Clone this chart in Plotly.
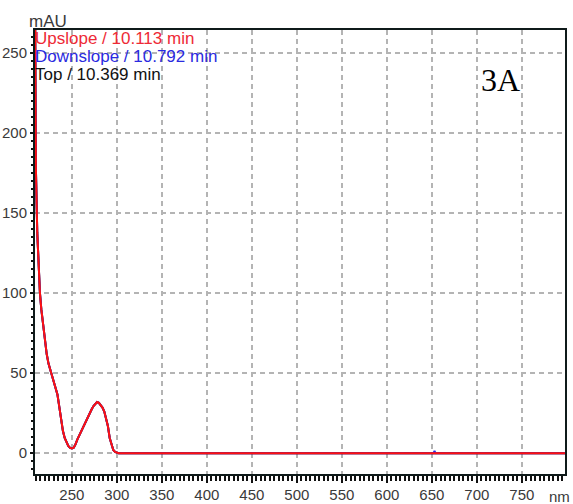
import plotly.graph_objects as go

# UV spectrum (DAD) of the peak: wavelength in nm, absorbance in mAU
wavelength_nm = [209, 210, 211.5, 213, 214.5, 216, 218, 220, 222, 224, 226, 228, 230,
                 232, 234, 236, 238, 240, 242, 244, 246, 248, 250, 252, 254, 256,
                 258, 260, 262, 264, 266, 268, 270, 272, 274, 276, 278, 280, 282,
                 284, 286, 288, 290, 292, 294, 296, 298, 300, 302, 310, 320, 330,
                 400, 500, 600, 652, 653, 654, 700, 750, 800]
upslope_mau = [290, 178, 138, 112, 100, 90, 80, 72, 62, 56, 52, 47, 44,
               40, 36.5, 29, 21, 14, 9.5, 6.5, 4.5, 3.3, 3, 3.5, 5.5, 8.5,
               11, 13.5, 16, 18, 20.5, 23, 25, 27.5, 29.5, 31, 32, 31.5, 30,
               28.5, 26, 21, 17, 9.5, 5, 2, 0.8, 0.2, 0, 0, 0, 0,
               0, 0, 0, 0, 0, 0, 0, 0, 0]

# Downslope and apex spectra are practically identical; small deviations listed here
downslope_mau = [v + (1.4 if w == 653 else 0) for w, v in zip(wavelength_nm, upslope_mau)]
top_mau = list(upslope_mau)

legend_lines = ["Upslope / 10.113 min", "Downslope / 10.792 min", "Top / 10.369 min"]
legend_colors = ["#ee2a36", "#2a2ae0", "#111111"]

x_ticks = [250, 300, 350, 400, 450, 500, 550, 600, 650, 700, 750]
y_ticks = [0, 50, 100, 150, 200, 250]

fig = go.Figure()
fig.add_trace(go.Scatter(x=wavelength_nm, y=top_mau, mode="lines",
                         line=dict(color="#111111", width=2), hoverinfo="skip"))
fig.add_trace(go.Scatter(x=wavelength_nm, y=downslope_mau, mode="lines",
                         line=dict(color="#2a2ae0", width=2), hoverinfo="skip"))
fig.add_trace(go.Scatter(x=wavelength_nm, y=upslope_mau, mode="lines",
                         line=dict(color="#ff1010", width=2), hoverinfo="skip"))

tick_font = dict(family="Liberation Sans, Arial, sans-serif", size=15, color="#3a3a3a")
grid_dash = "5px,4px"

fig.update_xaxes(range=[209, 798], tickvals=x_ticks, ticks="outside", ticklen=7,
                 tickwidth=1.5, tickcolor="#111", tickfont=tick_font, automargin=False,
                 ticklabelstandoff=-1,
                 showline=True, linecolor="#0f1a1a", linewidth=2, mirror=True,
                 showgrid=True, gridcolor="#b4b4b4", gridwidth=1.5, griddash=grid_dash,
                 zeroline=False,
                 minor=dict(dtick=5, tick0=0, ticks="outside", ticklen=5,
                            tickcolor="#111", tickwidth=1.5, showgrid=False))
fig.update_yaxes(range=[-13, 264.5], tickvals=y_ticks, ticks="outside", ticklen=3,
                 tickwidth=1.5, tickcolor="#111", tickfont=tick_font, automargin=False,
                 showline=True, linecolor="#0f1a1a", linewidth=2, mirror=True,
                 showgrid=True, gridcolor="#b4b4b4", gridwidth=1.5, griddash=grid_dash,
                 zeroline=False,
                 minor=dict(dtick=5, tick0=0, ticks="outside", ticklen=2,
                            tickcolor="#111", tickwidth=1.5, showgrid=False))

annotations = []
for i, (txt, col) in enumerate(zip(legend_lines, legend_colors)):
    annotations.append(dict(text=txt, xref="paper", yref="paper", x=0, y=0.98 - i * 0.0405,
                            xanchor="left", yanchor="middle", showarrow=False,
                            xshift=-2,
                            font=dict(family="Liberation Sans, Arial, sans-serif",
                                      size=17, color=col)))
annotations.append(dict(text="mAU", xref="paper", yref="paper", x=0, y=1,
                        xanchor="left", yanchor="bottom", xshift=-8, yshift=-3,
                        showarrow=False,
                        font=dict(family="Liberation Sans, Arial, sans-serif",
                                  size=17, color="#3a3a3a")))
annotations.append(dict(text="nm", xref="paper", yref="paper", x=1, y=0,
                        xanchor="right", yanchor="middle", xshift=7, yshift=-22,
                        showarrow=False,
                        font=dict(family="Liberation Sans, Arial, sans-serif",
                                  size=15, color="#3a3a3a")))
annotations.append(dict(text="3A", xref="paper", yref="paper", x=0.879, y=0.887,
                        xanchor="center", yanchor="middle", showarrow=False,
                        font=dict(family="Liberation Serif, Times New Roman, serif",
                                  size=32, color="#000000")))

fig.update_layout(width=573, height=504, showlegend=False,
                  margin=dict(l=35, r=8, t=30, b=30),
                  paper_bgcolor="white", plot_bgcolor="white",
                  annotations=annotations)

fig.write_html("out.html")
